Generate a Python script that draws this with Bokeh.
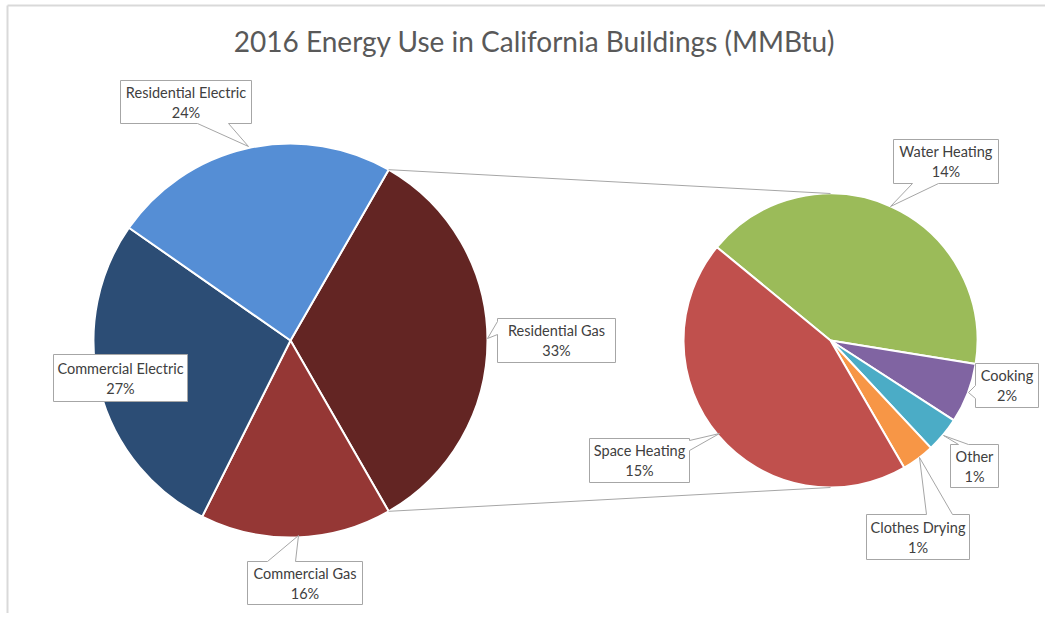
import numpy as np
from bokeh.plotting import figure
from bokeh.models import Range1d, ColumnDataSource
from bokeh.core.properties import value
from bokeh.embed import file_html
from bokeh.resources import INLINE

# ---------------- data ----------------
title_text = "2016 Energy Use in California Buildings (MMBtu)"

main_labels = ["Residential Gas", "Commercial Gas", "Commercial Electric", "Residential Electric"]
main_values = [33.4, 15.7, 27.3, 23.6]
main_colors = ["#632523", "#953735", "#2c4d75", "#558ed5"]

sub_labels = ["Water Heating", "Cooking", "Other", "Clothes Drying", "Space Heating"]
sub_values = [13.9, 2.2, 1.3, 1.2, 14.8]
sub_colors = ["#9bbb59", "#8064a2", "#4bacc6", "#f79646", "#c0504d"]

# ---------------- layout ----------------
W, H = 1045, 613
FONT = "Lato"
TXT = "#404040"


def X(px):  # page x -> data x
    return px


def Y(py):  # page y -> data y
    return H - py


MAIN_C = (290, 340)
MAIN_R = 197
SUB_C = (830, 340)
SUB_R = 147
SUB_START = 140.6  # degrees, first secondary slice starts here, clockwise

p = figure(width=W, height=H, x_range=Range1d(0, W), y_range=Range1d(0, H),
           output_backend="svg", toolbar_location=None,
           x_axis_type=None, y_axis_type=None, min_border=0)
p.outline_line_color = None
p.xgrid.visible = False
p.ygrid.visible = False
p.background_fill_color = "white"
p.border_fill_color = "white"

# chart-area border (top & left only visible in reference)
p.segment(x0=[X(7), X(7)], y0=[Y(5), 0], x1=[W, X(7)], y1=[Y(5), Y(5)],
          line_color="#d9d9d9", line_width=2)

total = sum(main_values)


def pie_angles(values, start_deg, tot):
    starts, ends = [], []
    a = start_deg
    for v in values:
        span = v / tot * 360.0
        # clockwise slice from a to a-span -> anticlock wedge from a-span to a
        starts.append(np.radians(a - span))
        ends.append(np.radians(a))
        a -= span
    return starts, ends


# main pie: first slice centred on the horizontal axis
first_span = main_values[0] / total * 360.0
ms, me = pie_angles(main_values, first_span / 2.0, total)
main_src = ColumnDataSource(dict(x=[X(MAIN_C[0])] * len(main_values),
                                 y=[Y(MAIN_C[1])] * len(main_values),
                                 s=ms, e=me, c=main_colors, lab=main_labels))
p.wedge(x="x", y="y", radius=MAIN_R, start_angle="s", end_angle="e",
        fill_color="c", line_color="white", line_width=2, source=main_src)

sub_total = sum(sub_values)
ss, se = pie_angles(sub_values, SUB_START, sub_total)
sub_src = ColumnDataSource(dict(x=[X(SUB_C[0])] * len(sub_values),
                                y=[Y(SUB_C[1])] * len(sub_values),
                                s=ss, e=se, c=sub_colors, lab=sub_labels))
p.wedge(x="x", y="y", radius=SUB_R, start_angle="s", end_angle="e",
        fill_color="c", line_color="white", line_width=2, source=sub_src)

# connector lines from split slice edges to secondary pie top / bottom
half = np.radians(first_span / 2.0)
mx, my = X(MAIN_C[0]), Y(MAIN_C[1])
sx, sy = X(SUB_C[0]), Y(SUB_C[1])
p.segment(x0=[mx + MAIN_R * np.cos(half), mx + MAIN_R * np.cos(-half)],
          y0=[my + MAIN_R * np.sin(half), my + MAIN_R * np.sin(-half)],
          x1=[sx, sx], y1=[sy + SUB_R, sy - SUB_R],
          line_color="#a6a6a6", line_width=1)

# title
p.text(x=[X(534)], y=[Y(40)], text=[title_text], text_font=value(FONT),
       text_font_size="28px", text_color="#595959",
       text_align="center", text_baseline="middle")


def callout(box, side=None, a=None, b=None, tip=None):
    x0, y0, x1, y1 = box
    pts = [(x0, y0)]
    if side == "top":
        pts += [(a, y0), tip, (b, y0)]
    pts.append((x1, y0))
    if side == "right":
        pts += [(x1, a), tip, (x1, b)]
    pts.append((x1, y1))
    if side == "bottom":
        pts += [(b, y1), tip, (a, y1)]
    pts.append((x0, y1))
    if side == "left":
        pts += [(x0, b), tip, (x0, a)]
    return [X(q[0]) for q in pts], [Y(q[1]) for q in pts]


# label boxes (page pixel layout)
callouts = {
    "Residential Electric": ((120, 80, 251, 123), "bottom", 197, 228, (248, 146)),
    "Residential Gas": ((497, 318, 615, 362), "left", 321, 334, (487, 338)),
    "Commercial Electric": ((53, 354, 187, 401), None, None, None, None),
    "Commercial Gas": ((247, 561, 362, 604), "top", 267, 295, (298, 535)),
    "Water Heating": ((893, 139, 998, 183), "bottom", 912, 938, (890, 206)),
    "Space Heating": ((589, 438, 689, 482), "right", 440, 450, (719, 433)),
    "Cooking": ((975, 363, 1038, 407), "left", 385, 398, (968, 392)),
    "Other": ((950, 444, 998, 487), "top", 958, 968, (943, 435)),
    "Clothes Drying": ((866, 514, 969, 559), "top", 926, 952, (919, 457)),
}

all_labels = main_labels + sub_labels
all_values = main_values + sub_values
xs, ys, tx, ty, tt = [], [], [], [], []
for lab, v in zip(all_labels, all_values):
    box, side, a, b, tip = callouts[lab]
    px_, py_ = callout(box, side, a, b, tip)
    xs.append(px_)
    ys.append(py_)
    cx = (box[0] + box[2]) / 2.0
    cy = (box[1] + box[3]) / 2.0
    tx += [X(cx), X(cx)]
    ty += [Y(cy - 10), Y(cy + 10)]
    tt += [lab, f"{round(v / total * 100)}%"]

p.patches(xs=xs, ys=ys, fill_color="white", line_color="#a6a6a6", line_width=1)
p.text(x=tx, y=ty, text=tt, text_font=value(FONT), text_font_size="14.5px",
       text_color=TXT, text_align="center", text_baseline="middle")

open("out.html", "w").write(file_html(p, INLINE))
